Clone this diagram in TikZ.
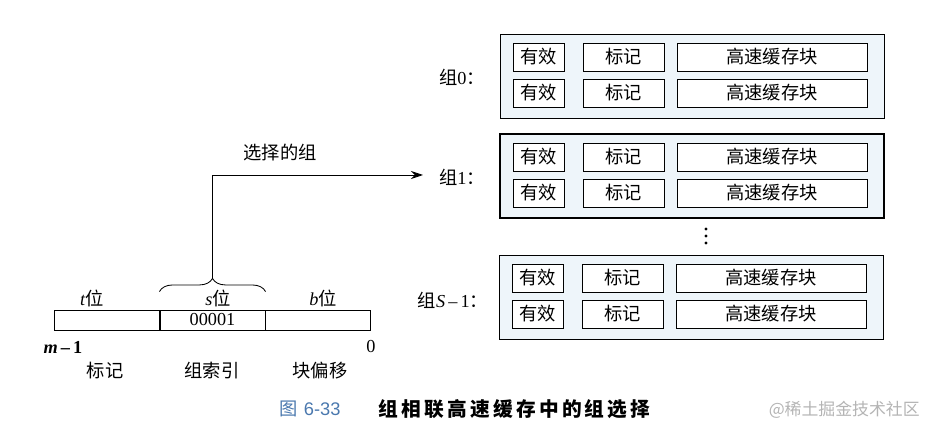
\documentclass[tikz,border=0pt]{standalone}
\usepackage{fontspec}
\setmainfont{Liberation Serif}
\newfontfamily\cjk{Noto Sans CJK SC}
\newfontfamily\capsans{Liberation Sans}
\usepackage{xcolor}
\usepackage{tikz}
\usetikzlibrary{arrows.meta,positioning,calc,decorations.pathreplacing}
\definecolor{setfill}{HTML}{EEF5FA}
\definecolor{figblue}{HTML}{4A78AE}
\definecolor{markgray}{HTML}{B4B4B4}

\begin{document}
\begin{tikzpicture}[
    x=0.025cm,y=-0.025cm,
    grp/.style    = {draw=black, fill=setfill, line width=0.6pt,
                     minimum width=9.6cm, minimum height=2.1cm, inner sep=0pt},
    grpsel/.style = {grp, line width=1.4pt},
    cell/.style   = {draw=black, fill=white, line width=0.6pt, inner sep=0pt,
                     minimum height=0.7cm, font=\cjk\fontsize{13}{15}\selectfont},
    fld/.style    = {draw=black, line width=0.6pt, inner sep=0pt,
                     minimum width=2.63cm, minimum height=0.5cm,
                     font=\fontsize{13}{15}\selectfont},
    glab/.style   = {font=\fontsize{13}{15}\selectfont, inner sep=0pt},
    lab/.style    = {font=\cjk\fontsize{13}{15}\selectfont, inner sep=0pt},
    sel/.style    = {-{Stealth[length=3mm,width=2mm]}, line width=0.6pt},
  ]

  \useasboundingbox (0,0) rectangle (930,426);

  % groups of lines
  \node[grp]    (g0) at (692, 76)  {};
  \node[grpsel] (g1) at (692,176)  {};
  \node[grp]    (gS) at (691,297)  {};

  \foreach \g in {0,1,S} {
    \foreach \r/\dy in {a/-19,b/17} {
      \node[cell,minimum width=1.275cm] (v\g\r) at ($(g\g.center)+(-153.5,\dy)$) {有效};
      \node[cell,minimum width=2.025cm] (t\g\r) at ($(g\g.center)+(-68.5,\dy)$)  {标记};
      \node[cell,minimum width=4.75cm]  (b\g\r) at ($(g\g.center)+(80,\dy)$)     {高速缓存块};
    }
  }

  \node[glab] (l0) at (462, 77)  {{\cjk 组}0{\cjk ：}};
  \node[glab] (l1) at (462,177)  {{\cjk 组}1{\cjk ：}};
  \node[glab] (lS) at (453,300)  {{\cjk 组}\textit{S}\,–\,1{\cjk ：}};
  \foreach \y in {229,236,243} \fill (706,\y) circle (1.2pt);

  % address
  \node[fld] (tagf) at (107.5,320) {};
  \node[fld] (idxf) at (212.5,320) {00001};
  \node[fld] (offf) at (318,320)   {};

  \node[glab] (tb) at (92,298)  {\textit{t}{\cjk 位}};
  \node[glab] (sb) at (218,298) {\textit{s}{\cjk 位}};
  \node[glab] (bb) at (323,298) {\textit{b}{\cjk 位}};

  \node[glab] (hi) at (63,347) {\textbf{\textit{m}\,–\,1}};
  \node[glab] (lo) at (371,347) {0};

  \node[lab] (ntag) at (105,371) {标记};
  \node[lab] (nidx) at (212,371) {组索引};
  \node[lab] (noff) at (320,371) {块偏移};

  \draw[line width=0.6pt, decorate, decoration={brace, amplitude=0.33cm}]
       ($(idxf.north west)+(0,-18)$) -- ($(idxf.north east)+(0,-18)$);
  \coordinate (tip)  at ($(idxf.north)+(0,-31)$);
  \coordinate (dest) at (423,175);
  \draw[sel] (tip) |- (dest);
  \node[lab] (selname) at (280,153) {选择的组};

  % caption
  \node[font=\capsans\fontsize{13}{15}\selectfont, text=figblue, inner sep=0pt] (fig) at (310,409)
       {{\cjk 图}\,\,6-33};
  \node[font=\cjk\bfseries\fontsize{14}{16}\selectfont, inner sep=0pt, anchor=west] (cap) at (378,409)
       {组\,相\,联\,高\,速\,缓\,存\,中\,的\,组\,选\,择};
  \node[font=\cjk\fontsize{12}{14}\selectfont, text=markgray, inner sep=0pt, anchor=east] (wm) at (920,410)
       {@稀土掘金技术社区};

\end{tikzpicture}
\end{document}
